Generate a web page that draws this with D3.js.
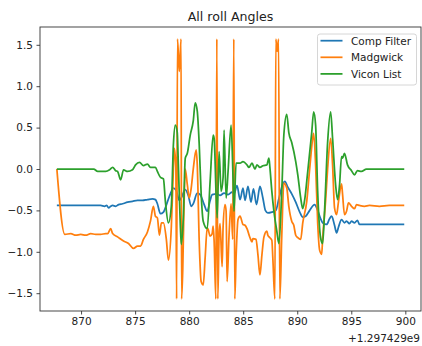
<!DOCTYPE html>
<html><head><meta charset="utf-8">
<script src="https://cdn.jsdelivr.net/npm/d3@7"></script>
<style>
html,body{margin:0;padding:0;background:#fff;}
svg{display:block;font-family:"DejaVu Sans",sans-serif;}
</style></head>
<body>
<svg id="c" width="422" height="346"></svg>
<script>
// ---- data (time in seconds, offset +1.297429e9) ----
const OFFSET_LABEL = "+1.297429e9";
const title = "All roll Angles";
const seriesNames = ["Comp Filter", "Madgwick", "Vicon List"];
const xTicks = [870, 875, 880, 885, 890, 895, 900];
const yTicks = [-1.5, -1.0, -0.5, 0.0, 0.5, 1.0, 1.5];

const compT = [867.76, 871.81, 872.18, 872.37, 872.55, 872.74, 872.92, 873.20, 873.47, 873.84,
  874.30, 874.76, 875.22, 875.68, 876.14, 876.60, 876.88, 877.06, 877.34, 877.62,
  877.98, 878.26, 878.54, 878.81, 879.09, 879.27, 879.64, 879.92, 880.19, 880.38,
  880.75, 881.02, 881.39, 881.67, 881.94, 882.13, 882.59, 882.86, 883.23, 883.60,
  883.97, 884.15, 884.43, 884.71, 884.98, 885.17, 885.44, 885.72, 885.95, 886.23,
  886.55, 886.82, 887.05, 887.28, 887.65, 888.02, 888.30, 888.67, 888.85, 889.13,
  889.49, 889.86, 890.23, 890.51, 890.78, 891.15, 891.61, 891.89, 892.16, 892.35,
  892.72, 892.99, 893.18, 893.45, 893.64, 893.82, 894.10, 894.37, 894.56, 894.83,
  895.02, 895.30, 895.57, 895.76, 899.90];
const compV = [-0.44, -0.44, -0.45, -0.44, -0.47, -0.45, -0.44, -0.45, -0.43, -0.42,
  -0.40, -0.39, -0.38, -0.38, -0.37, -0.36, -0.37, -0.42, -0.54, -0.52,
  -0.40, -0.30, -0.23, -0.26, -0.38, -0.35, -0.25, -0.32, -0.45, -0.42,
  -0.29, -0.31, -0.43, -0.51, -0.38, -0.31, -0.30, -0.32, -0.29, -0.31,
  -0.28, -0.30, -0.20, -0.37, -0.23, -0.38, -0.21, -0.40, -0.24, -0.43,
  -0.21, -0.35, -0.50, -0.53, -0.52, -0.50, -0.36, -0.18, -0.15, -0.22,
  -0.30, -0.40, -0.52, -0.58, -0.57, -0.50, -0.43, -0.50, -0.60, -0.65,
  -0.67, -0.60, -0.57, -0.68, -0.77, -0.70, -0.61, -0.65, -0.63, -0.66,
  -0.63, -0.65, -0.62, -0.67, -0.67];

const madgT = [867.76, 868.50, 869.05, 869.51, 869.97, 870.43, 870.89, 871.35, 871.81, 872.28,
  872.46, 872.74, 872.92, 873.38, 873.93, 874.39, 874.85, 875.22, 875.50, 875.77,
  876.14, 876.42, 876.69, 876.88, 877.06, 877.25, 877.43, 877.62, 877.89, 878.08,
  878.35, 878.51, 878.63, 878.77, 878.84, 878.92, 879.09, 879.25, 879.30, 879.41,
  879.50, 879.64, 879.83, 880.01, 880.19, 880.38, 880.65, 880.75, 880.93, 881.11,
  881.30, 881.48, 881.67, 881.76, 881.94, 882.13, 882.22, 882.31, 882.47, 882.56,
  882.65, 882.77, 882.86, 883.05, 883.14, 883.32, 883.42, 883.51, 883.69, 883.88,
  884.03, 884.13, 884.22, 884.34, 884.52, 884.71, 884.98, 885.17, 885.35, 885.63,
  885.81, 885.90, 886.18, 886.36, 886.55, 886.73, 886.92, 887.19, 887.28, 887.47,
  887.65, 887.74, 887.93, 888.02, 888.14, 888.27, 888.39, 888.57, 888.76, 889.03,
  889.22, 889.49, 889.68, 889.86, 890.05, 890.32, 890.51, 890.88, 891.15, 891.43,
  891.52, 891.70, 891.89, 892.07, 892.26, 892.35, 892.62, 892.81, 893.09, 893.27,
  893.45, 893.64, 893.82, 894.10, 894.19, 894.37, 894.56, 894.74, 895.02, 895.30,
  895.48, 895.76, 896.22, 896.68, 897.60, 898.52, 899.90];
const madgV = [0.00, -0.79, -0.78, -0.80, -0.79, -0.80, -0.78, -0.79, -0.79, -0.78,
  -0.78, -0.72, -0.78, -0.82, -0.87, -0.90, -0.96, -0.93, -0.93, -0.85,
  -0.76, -0.63, -0.45, -0.57, -0.59, -0.80, -0.65, -0.65, -0.85, -1.10,
  -0.70, -0.11, 0.25, 0.02, -1.57, 1.57, 1.18, 1.57, -1.57, -1.20,
  -0.60, 0.00, -0.19, -0.35, -0.23, 0.00, 0.23, 0.05, -0.87, -1.36,
  -1.40, -1.07, -0.71, -0.73, -0.81, -0.78, -0.69, -0.87, -1.57, 1.57,
  -1.57, -0.80, -0.66, -1.18, -0.70, -0.43, -0.51, -1.36, -0.80, -0.42,
  -0.85, 1.57, -1.57, -1.07, -0.61, -0.57, -0.67, -0.68, -0.72, -0.83,
  -0.88, -0.84, -0.85, -1.03, -1.28, -1.04, -0.82, -0.75, -0.80, -0.83,
  -0.86, -1.07, -1.57, 1.57, 1.42, 1.57, -1.57, -0.80, -0.17, -0.23,
  -0.45, -0.63, -0.68, -0.80, -0.83, -0.85, -0.65, -0.39, 0.00, 0.37,
  0.43, 0.05, -0.65, -0.98, -1.03, -0.84, -0.39, 0.00, 0.37, 0.05,
  -0.47, -0.55, -0.39, -0.18, -0.30, -0.55, -0.51, -0.41, -0.45, -0.48,
  -0.43, -0.44, -0.45, -0.44, -0.45, -0.44, -0.44];

const viconT = [867.76, 871.17, 871.54, 872.28, 872.64, 872.92, 873.20, 873.38, 873.66, 873.93,
  874.30, 874.76, 875.04, 875.41, 875.77, 876.14, 876.42, 876.88, 877.06, 877.34,
  877.62, 877.80, 878.08, 878.35, 878.54, 878.72, 878.90, 879.00, 879.18, 879.27,
  879.46, 879.64, 879.83, 880.10, 880.38, 880.56, 880.75, 880.93, 881.11, 881.30,
  881.67, 881.94, 882.22, 882.31, 882.59, 882.77, 882.96, 883.14, 883.23, 883.42,
  883.60, 883.88, 884.06, 884.15, 884.34, 884.71, 884.98, 885.35, 885.53, 885.81,
  886.09, 886.27, 886.55, 886.82, 887.19, 887.38, 887.47, 887.65, 887.84, 888.11,
  888.30, 888.57, 888.76, 889.03, 889.22, 889.49, 889.86, 890.05, 890.32, 890.51,
  890.69, 890.97, 891.34, 891.52, 891.70, 891.89, 892.16, 892.35, 892.53, 892.81,
  893.09, 893.27, 893.55, 893.73, 893.91, 894.10, 894.19, 894.37, 894.65, 895.02,
  895.30, 895.57, 895.94, 896.40, 899.90];
const viconV = [0.00, 0.00, -0.03, -0.03, -0.01, 0.02, -0.02, -0.03, -0.13, -0.01,
  -0.03, -0.01, 0.05, 0.08, 0.04, 0.06, 0.02, 0.02, -0.03, -0.10,
  -0.12, -0.39, -0.65, -0.45, 0.29, 0.53, 0.44, 0.05, -0.67, -0.91,
  -0.59, 0.13, 0.19, 0.41, 0.58, 0.80, 0.70, 0.30, -0.30, -0.63,
  -0.72, -0.15, 0.41, 0.37, -0.59, 0.21, -0.27, -0.10, 0.47, -0.35,
  -0.03, 0.53, -0.11, -0.51, 0.07, 0.07, 0.09, 0.05, 0.02, 0.07,
  0.00, 0.05, 0.02, 0.04, 0.05, 0.13, 0.02, -0.27, -0.51, -0.75,
  -0.90, -0.27, 0.41, 0.66, 0.44, 0.32, 0.09, -0.07, -0.35, -0.48,
  -0.37, -0.03, 0.44, 0.69, 0.53, -0.27, -0.83, -0.90, -0.50, 0.32,
  0.69, 0.37, -0.19, -0.37, -0.20, 0.15, 0.13, 0.19, 0.05, -0.02,
  -0.07, -0.02, -0.03, 0.00, 0.00];

const colors = ["#1f77b4", "#ff7f0e", "#2ca02c"];

// ---- layout ----
const svg = d3.select("#c");
const L = 40, R = 421, T = 27, B = 311;
const x = d3.scaleLinear().domain([866.2, 901.45]).range([L, R]);
const y = d3.scaleLinear().domain([-1.715, 1.715]).range([B, T]);

svg.append("defs").append("clipPath").attr("id", "clip")
  .append("rect").attr("x", L).attr("y", T).attr("width", R - L).attr("height", B - T);

const series = [
  {name: seriesNames[0], t: compT, v: compV, c: colors[0]},
  {name: seriesNames[1], t: madgT, v: madgV, c: colors[1]},
  {name: seriesNames[2], t: viconT, v: viconV, c: colors[2]}
];

const line = d3.line().x(d => x(d[0])).y(d => y(d[1])).curve(d3.curveMonotoneX);
const plot = svg.append("g").attr("clip-path", "url(#clip)");
series.forEach(s => {
  const pts = s.t.map((t, i) => [t, s.v[i]]);
  plot.append("path").datum(pts).attr("d", line)
    .attr("fill", "none").attr("stroke", s.c).attr("stroke-width", 1.75)
    .attr("stroke-linejoin", "round").attr("stroke-linecap", "butt");
});

// ---- axes ----
const fmtY = d => d3.format(".1f")(d).replace("-", "\u2212");
const xAxis = d3.axisBottom(x).tickValues(xTicks).tickSize(3.5).tickPadding(3.5).tickFormat(d3.format("d"));
const yAxis = d3.axisLeft(y).tickValues(yTicks).tickSize(3.5).tickPadding(3.5).tickFormat(fmtY);

const gx = svg.append("g").attr("transform", `translate(0,${B})`).call(xAxis);
const gy = svg.append("g").attr("transform", `translate(${L},0)`).call(yAxis);
[gx, gy].forEach(g => {
  g.select(".domain").remove();
  g.selectAll(".tick line").attr("stroke", "#333").attr("stroke-width", 0.9);
  g.selectAll(".tick text").attr("fill", "#222").attr("font-size", "10.5px")
    .attr("font-family", "DejaVu Sans, sans-serif");
});

// frame
svg.append("rect").attr("x", L).attr("y", T).attr("width", R - L).attr("height", B - T)
  .attr("fill", "none").attr("stroke", "#333").attr("stroke-width", 0.9);

// offset text
svg.append("text").attr("x", 420).attr("y", 341.5).attr("text-anchor", "end")
  .attr("font-size", "10.5px").attr("fill", "#222").text(OFFSET_LABEL);

// title
svg.append("text").attr("x", (L + R) / 2).attr("y", 20.5).attr("text-anchor", "middle")
  .attr("font-size", "12.6px").attr("fill", "#222").text(title);

// legend
const lg = svg.append("g");
lg.append("rect").attr("x", 317.5).attr("y", 34).attr("width", 99).attr("height", 51)
  .attr("rx", 2.5).attr("fill", "white").attr("fill-opacity", 0.8)
  .attr("stroke", "#ccc").attr("stroke-width", 0.8);
series.forEach((s, i) => {
  const yy = 40.7 + i * 16.6;
  lg.append("line").attr("x1", 320.5).attr("x2", 342.5).attr("y1", yy).attr("y2", yy)
    .attr("stroke", s.c).attr("stroke-width", 1.75);
  lg.append("text").attr("x", 351).attr("y", yy + 3.8).attr("font-size", "10.5px")
    .attr("fill", "#222").text(s.name);
});
</script>
</body></html>
